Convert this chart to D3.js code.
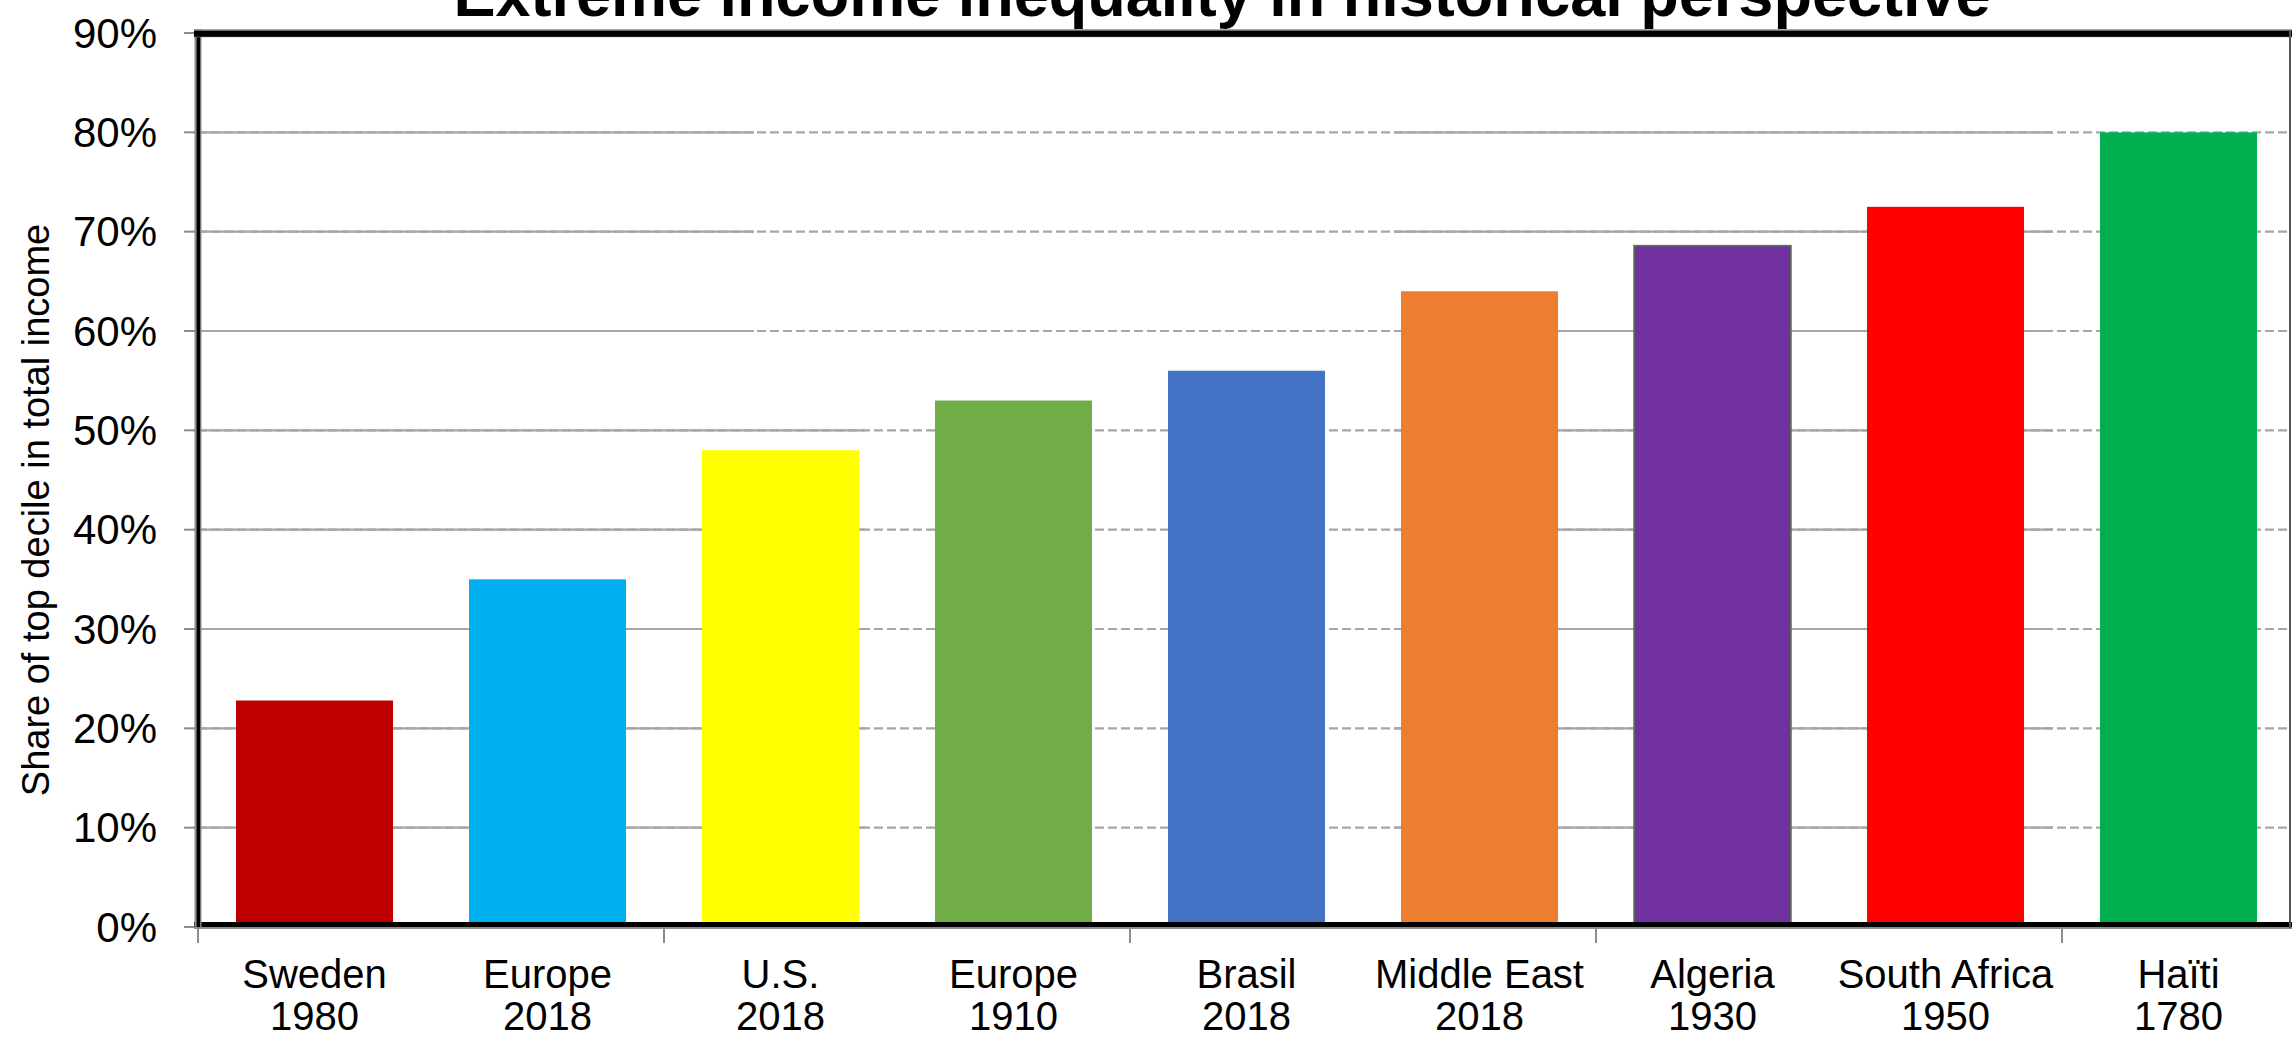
<!DOCTYPE html>
<html>
<head>
<meta charset="utf-8">
<script src="https://cdn.jsdelivr.net/npm/d3@7.9.0/dist/d3.min.js"></script>
<style>
  body { margin: 0; background: #fff; }
  svg { display: block; font-family: "Liberation Sans", Arial, sans-serif; }
</style>
</head>
<body>
<svg width="2292" height="1040"></svg>
<script>
// data
const places = ['Sweden', 'Europe', 'U.S.', 'Europe', 'Brasil', 'Middle East', 'Algeria', 'South Africa', 'Haïti'];
const years = ['1980', '2018', '2018', '1910', '2018', '2018', '1930', '1950', '1780'];
const shares = [22.8, 35, 48, 53, 56, 64, 68.6, 72.5, 80];
const barColors = ['#C00000', '#00B0F0', '#FFFF00', '#70AD47', '#4472C4', '#ED7D31', '#7030A0', '#FF0000', '#00B050'];
const yTicks = [0, 10, 20, 30, 40, 50, 60, 70, 80, 90];

const svg = d3.select('svg');

let x = d3.scaleBand()
  .domain(d3.range(places.length))
  .range([198, 2295])
  .paddingInner(0.326)
  .paddingOuter(0.163);

let y = d3.scaleLinear().domain([0, 90]).range([927, 33]);

// position in band steps from the left edge of the plot
const xs = (s) => x.range()[0] + s * x.step();

// gridlines: dashed, with solid stretches (as in the source image)
const grid = svg.append('g');
yTicks.filter((t) => t > 0 && t < 90).forEach((t) => {
  let solid = t >= 60 ? [[-0.02, 2.386], [5.133, 7.961]] : [[-0.02, 2.863], [5.133, 7.961]];
  grid.append('line')
    .attr('x1', xs(0)).attr('x2', 2290)
    .attr('y1', y(t)).attr('y2', y(t))
    .attr('stroke', '#a6a6a6').attr('stroke-width', 2.2)
    .attr('stroke-dasharray', '9,4');
  solid.forEach(([a, b]) => {
    grid.append('line')
      .attr('x1', xs(a)).attr('x2', xs(b))
      .attr('y1', y(t)).attr('y2', y(t))
      .attr('stroke', '#a6a6a6').attr('stroke-width', 2.2);
  });
});

// bars
svg.append('g').selectAll('rect')
  .data(shares)
  .join('rect')
  .attr('x', (d, i) => x(i))
  .attr('y', (d) => y(d))
  .attr('width', x.bandwidth())
  .attr('height', (d) => y(0) - y(d))
  .attr('fill', (d, i) => barColors[i])
  .attr('stroke', (d, i) => (places[i] === 'Algeria' ? '#548235' : 'none'))
  .attr('stroke-width', 1.5);

// y axis ticks + labels
const yAxis = svg.append('g');
yTicks.forEach((t) => {
  yAxis.append('line')
    .attr('x1', 184).attr('x2', 196)
    .attr('y1', y(t)).attr('y2', y(t))
    .attr('stroke', '#8c8c8c').attr('stroke-width', 2);
  yAxis.append('text')
    .attr('x', 157).attr('y', y(t))
    .attr('text-anchor', 'end')
    .attr('dominant-baseline', 'central')
    .attr('font-size', 42)
    .text(`${t}%`);
});

// x ticks every two categories
[0, 2, 4, 6, 8].forEach((i) => {
  let tx = x(i) - x.step() * x.paddingInner() / 2;
  svg.append('line')
    .attr('x1', tx).attr('x2', tx)
    .attr('y1', 927).attr('y2', 943)
    .attr('stroke', '#8c8c8c').attr('stroke-width', 2);
});

// frame
svg.append('line').attr('x1', 194).attr('x2', 2292).attr('y1', 928).attr('y2', 928)
  .attr('stroke', '#8c8c8c').attr('stroke-width', 2);
svg.append('line').attr('x1', 194).attr('x2', 2292).attr('y1', 924.5).attr('y2', 924.5)
  .attr('stroke', '#000').attr('stroke-width', 5);
svg.append('line').attr('x1', 198).attr('x2', 198).attr('y1', 29).attr('y2', 929)
  .attr('stroke', '#8c8c8c').attr('stroke-width', 7);
svg.append('line').attr('x1', 198.4).attr('x2', 198.4).attr('y1', 30).attr('y2', 927)
  .attr('stroke', '#000').attr('stroke-width', 3.5);
svg.append('line').attr('x1', 194).attr('x2', 2292).attr('y1', 33.3).attr('y2', 33.3)
  .attr('stroke', '#8c8c8c').attr('stroke-width', 8);
svg.append('line').attr('x1', 194).attr('x2', 2292).attr('y1', 33.7).attr('y2', 33.7)
  .attr('stroke', '#000').attr('stroke-width', 6);
svg.append('line').attr('x1', 2290).attr('x2', 2290).attr('y1', 30).attr('y2', 928)
  .attr('stroke', '#555').attr('stroke-width', 2);

// category labels
const xLab = svg.append('g')
  .selectAll('text')
  .data(places)
  .join('text')
  .attr('text-anchor', 'middle')
  .attr('font-size', 40);
xLab.append('tspan')
  .attr('x', (d, i) => x(i) + x.bandwidth() / 2)
  .attr('y', 988)
  .text((d) => d);
xLab.append('tspan')
  .attr('x', (d, i) => x(i) + x.bandwidth() / 2)
  .attr('y', 1030)
  .text((d, i) => years[i]);

// axis title
svg.append('text')
  .attr('transform', 'translate(49,510) rotate(-90)')
  .attr('text-anchor', 'middle')
  .attr('font-size', 38)
  .text('Share of top decile in total income');

// chart title (cut off by the top edge, as in the reference)
svg.append('text')
  .attr('x', 1222).attr('y', 16)
  .attr('text-anchor', 'middle')
  .attr('font-size', 63)
  .attr('font-weight', 'bold')
  .text('Extreme income inequality in historical perspective');
</script>
</body>
</html>
